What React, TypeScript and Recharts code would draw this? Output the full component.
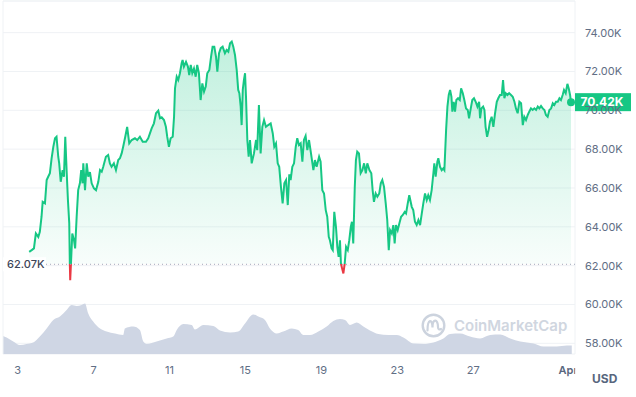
import React from "react";
import {
  ComposedChart,
  Area,
  XAxis,
  YAxis,
  CartesianGrid,
  ReferenceLine,
  ReferenceDot,
} from "recharts";

const GREEN = "#16c784";
const RED = "#ea3943";
const GRID = "#eff2f5";
const TEXT = "#616e85";
const FONT = "Inter, 'Noto Sans', sans-serif";

// days of March (Apr 1 = 32)
const priceDays = [
  3.61, 3.74, 3.86, 3.96, 4.09, 4.17, 4.26, 4.32, 4.44, 4.53, 4.61, 4.7, 4.79, 4.88, 4.97, 5.05,
  5.14, 5.19, 5.27, 5.37, 5.44, 5.51, 5.58, 5.65, 5.72, 5.75, 5.77, 5.81, 5.88, 5.97, 6.03, 6.11,
  6.19, 6.28, 6.35, 6.42, 6.46, 6.55, 6.64, 6.72, 6.81, 6.9, 7.02, 7.13, 7.25, 7.34, 7.43, 7.51,
  7.65, 7.77, 7.86, 7.95, 8.07, 8.18, 8.3, 8.39, 8.48, 8.56, 8.67, 8.77, 8.88, 9.01, 9.18, 9.3,
  9.44, 9.59, 9.76, 9.88, 10.06, 10.18, 10.29, 10.41, 10.5, 10.59, 10.71, 10.81, 10.88, 10.97,
  11.06, 11.17, 11.24, 11.29, 11.38, 11.46, 11.55, 11.64, 11.69, 11.76, 11.87, 11.97, 12.04,
  12.12, 12.2, 12.29, 12.38, 12.46, 12.55, 12.64, 12.73, 12.82, 12.91, 12.99, 13.1, 13.19, 13.27,
  13.36, 13.45, 13.52, 13.61, 13.7, 13.8, 13.92, 14.01, 14.1, 14.19, 14.28, 14.36, 14.45, 14.54,
  14.62, 14.68, 14.75, 14.8, 14.86, 14.92, 14.98, 15.03, 15.1, 15.17, 15.24, 15.33, 15.45, 15.56,
  15.62, 15.71, 15.8, 15.89, 15.98, 16.08, 16.2, 16.33, 16.44, 16.52, 16.61, 16.7, 16.78, 16.87,
  16.96, 17.05, 17.14, 17.23, 17.31, 17.38, 17.47, 17.56, 17.65, 17.73, 17.82, 17.91, 18.0, 18.08,
  18.17, 18.26, 18.35, 18.44, 18.58, 18.66, 18.75, 18.88, 18.96, 19.05, 19.14, 19.23, 19.31,
  19.39, 19.45, 19.54, 19.6, 19.68, 19.77, 19.84, 19.91, 19.98, 20.03, 20.09, 20.16, 20.23, 20.3,
  20.39, 20.47, 20.55, 20.61, 20.68, 20.76, 20.82, 20.89, 20.98, 21.07, 21.16, 21.25, 21.34,
  21.42, 21.53, 21.63, 21.7, 21.77, 21.86, 21.95, 22.05, 22.13, 22.21, 22.3, 22.39, 22.47, 22.55,
  22.62, 22.71, 22.79, 22.86, 22.93, 23.02, 23.11, 23.2, 23.29, 23.39, 23.46, 23.55, 23.63, 23.76,
  23.84, 23.93, 24.02, 24.11, 24.2, 24.29, 24.37, 24.46, 24.55, 24.63, 24.72, 24.81, 24.9, 24.95,
  25.02, 25.11, 25.16, 25.25, 25.34, 25.42, 25.48, 25.57, 25.64, 25.71, 25.78, 25.85, 25.9, 25.97,
  26.04, 26.11, 26.2, 26.29, 26.36, 26.45, 26.53, 26.62, 26.71, 26.78, 26.87, 26.95, 27.04, 27.13,
  27.22, 27.31, 27.36, 27.43, 27.52, 27.59, 27.65, 27.73, 27.81, 27.88, 27.97, 28.06, 28.15,
  28.24, 28.32, 28.41, 28.5, 28.57, 28.64, 28.71, 28.8, 28.89, 28.99, 29.08, 29.17, 29.25, 29.34,
  29.43, 29.52, 29.61, 29.69, 29.78, 29.87, 29.95, 30.04, 30.13, 30.22, 30.31, 30.4, 30.48, 30.57,
  30.66, 30.75, 30.83, 30.92, 31.01, 31.1, 31.19, 31.27, 31.36, 31.45, 31.54, 31.62, 31.71, 31.78,
  31.87, 31.96, 32.03, 32.1, 32.15,
];

// BTC price, thousands of USD
const priceValues = [
  62.71, 62.8, 62.89, 63.66, 63.48, 63.74, 64.52, 65.29, 65.21, 66.41, 66.58, 66.76, 67.53, 68.12,
  68.56, 68.64, 67.61, 67.27, 66.32, 66.92, 66.58, 68.64, 66.92, 65.38, 64.18, 62.11, 61.25, 62.11,
  63.66, 63.31, 62.89, 64.52, 65.89, 66.24, 66.92, 66.24, 67.27, 65.89, 67.27, 66.58, 66.82, 66.24,
  65.98, 65.89, 66.32, 66.92, 66.84, 67.09, 67.61, 67.7, 67.27, 67.09, 67.27, 66.92, 67.44, 67.53,
  67.78, 68.12, 68.64, 69.15, 68.3, 68.47, 68.56, 68.47, 68.64, 68.38, 68.38, 68.56, 69.07, 69.33,
  69.85, 69.98, 69.59, 69.64, 69.5, 69.15, 68.64, 68.12, 68.56, 68.64, 69.67, 71.13, 71.73, 71.56,
  71.91, 72.42, 72.59, 72.25, 72.5, 72.25, 71.82, 72.34, 71.91, 72.16, 71.73, 72.34, 71.91, 70.53,
  71.39, 70.96, 71.22, 71.91, 72.08, 72.76, 73.28, 73.28, 72.76, 71.99, 72.94, 73.2, 73.28, 72.94,
  73.11, 73.02, 73.45, 73.54, 73.28, 72.85, 72.08, 71.05, 70.88, 70.19, 69.24, 71.05, 71.56, 71.91,
  70.7, 68.47, 67.61, 68.47, 67.27, 67.78, 68.47, 67.95, 70.27, 67.78, 69.15, 69.5, 69.15, 69.24,
  69.33, 68.81, 68.12, 68.3, 67.27, 67.09, 66.06, 65.21, 66.24, 66.41, 65.12, 66.7, 66.41, 67.09,
  67.27, 68.12, 68.56, 68.21, 68.3, 67.35, 68.47, 68.68, 67.95, 68.47, 67.87, 66.92, 67.44, 67.09,
  67.61, 67.35, 65.89, 65.72, 64.86, 64.52, 63.48, 63.31, 62.89, 62.8, 64.77, 63.99, 62.97, 62.45,
  63.31, 62.11, 61.86, 61.6, 62.11, 62.97, 62.8, 63.31, 63.99, 64.26, 63.14, 66.06, 67.44, 67.87,
  67.78, 66.76, 66.92, 67.27, 66.76, 67.27, 66.92, 66.76, 65.89, 65.29, 65.72, 65.55, 65.72, 66.24,
  66.41, 66.06, 65.21, 64.35, 62.8, 63.83, 63.66, 64.09, 63.14, 64.09, 63.83, 64.18, 64.52, 64.61,
  64.77, 64.69, 65.21, 65.63, 65.03, 64.86, 64.26, 64.09, 64.35, 64.09, 64.69, 65.21, 65.72, 65.38,
  65.63, 65.38, 65.89, 66.76, 67.27, 66.58, 67.35, 67.53, 67.09, 66.92, 67.01, 66.92, 68.98, 70.19,
  70.79, 71.05, 70.7, 69.93, 70.44, 69.93, 70.53, 70.62, 70.53, 71.13, 70.88, 70.53, 70.1, 70.02,
  69.59, 70.1, 70.53, 70.62, 70.44, 70.19, 70.44, 69.59, 70.1, 70.19, 70.02, 69.15, 68.64, 68.98,
  69.41, 69.67, 69.15, 69.85, 70.44, 70.62, 70.79, 70.79, 71.56, 70.62, 70.88, 70.79, 70.88, 70.79,
  70.7, 70.44, 70.1, 69.85, 70.44, 70.36, 69.24, 69.67, 69.5, 69.76, 69.93, 70.1, 70.02, 70.1,
  70.02, 70.19, 70.1, 70.22, 70.1, 70.02, 69.76, 69.67, 70.02, 70.1, 70.36, 70.27, 70.44, 70.44,
  70.62, 70.53, 70.79, 71.05, 70.88, 71.36, 71.13, 70.79, 70.42,
];

const volumeDays = [
  2.23, 2.42, 2.77, 3.12, 3.47, 3.82, 4.17, 4.53, 4.88, 5.23, 5.58, 5.85, 6.11, 6.37, 6.55, 6.72,
  6.98, 7.34, 7.69, 8.13, 8.56, 8.65, 9.09, 9.44, 9.62, 9.8, 10.32, 10.85, 11.2, 11.38, 11.73,
  12.17, 12.34, 12.78, 13.31, 13.66, 14.19, 14.62, 14.98, 15.41, 15.68, 16.03, 16.29, 16.65,
  16.99, 17.44, 17.78, 18.05, 18.4, 18.84, 19.28, 19.63, 19.98, 20.25, 20.51, 20.86, 21.21, 21.56,
  22.0, 22.53, 22.97, 23.32, 23.85, 24.38, 24.9, 25.43, 25.78, 26.31, 26.83, 27.36, 27.89, 28.42,
  28.95, 29.48, 30.17, 30.7, 31.4, 31.93, 32.19,
];

// 24h volume, billions of USD
const volumeValues = [
  36, 33, 25, 18, 20, 23, 35, 51, 68, 75, 88, 98, 96, 98, 101, 81, 65, 51, 45, 41, 38, 51, 55, 48,
  25, 20, 25, 31, 35, 48, 60, 58, 49, 58, 56, 47, 43, 45, 61, 79, 75, 68, 51, 41, 45, 51, 48, 38,
  38, 45, 55, 66, 70, 68, 58, 63, 55, 47, 40, 38, 38, 33, 21, 20, 23, 31, 40, 41, 35, 31, 38, 39,
  31, 25, 21, 15, 15, 17, 17,
];

const xTicks = [3, 7, 11, 15, 19, 23, 27, 32];
const yTicks = [58, 60, 62, 64, 66, 68, 70, 72, 74];
const OPEN_PRICE = 62.07;

const X_MIN = 2.23;
const X_MAX = 32.36;
const Y_MIN = 57.45;
const Y_MAX = 75.63;

const priceData = priceDays.map((t, i) => ({ t, p: priceValues[i] }));
const volumeData = volumeDays.map((t, i) => ({ t, v: volumeValues[i] }));
const last = priceData[priceData.length - 1];

const pMax = Math.max(...priceValues);
const pMin = Math.min(...priceValues);
const split = (pMax - OPEN_PRICE) / (pMax - pMin);

function XTick(props: any) {
  const { x, y, payload } = props;
  if (payload.value === 32) {
    return (
      <g>
        <defs>
          <clipPath id="month-clip">
            <rect x={x - 20} y={y - 2} width={27} height={20} />
          </clipPath>
        </defs>
        <text
          x={x}
          y={y}
          dy="0.71em"
          textAnchor="middle"
          fontSize={11}
          fontWeight={600}
          fill="#58667e"
          fontFamily={FONT}
          clipPath="url(#month-clip)"
        >
          Apr
        </text>
      </g>
    );
  }
  return (
    <text x={x} y={y} dy="0.71em" textAnchor="middle" fontSize={11} fill={TEXT} fontFamily={FONT}>
      {payload.value}
    </text>
  );
}

function OpenLabel(props: any) {
  const { viewBox } = props;
  return (
    <g>
      <rect x={viewBox.x} y={viewBox.y - 7} width={43} height={14} fill="#fff" />
      <text
        x={viewBox.x + 4}
        y={viewBox.y}
        dy="0.35em"
        fontSize={11}
        fontWeight={500}
        fill="#3d4558"
        fontFamily={FONT}
      >
        {OPEN_PRICE.toFixed(2)}K
      </text>
    </g>
  );
}

function LastLabel(props: any) {
  const { viewBox } = props;
  const left = viewBox.x + viewBox.width;
  return (
    <g>
      <rect x={left} y={viewBox.y - 9} width={56} height={18} fill={GREEN} />
      <text
        x={left + 27}
        y={viewBox.y}
        dy="0.36em"
        textAnchor="middle"
        fontSize={12}
        fontWeight={700}
        fill="#fff"
        fontFamily={FONT}
      >
        {last.p.toFixed(2)}K
      </text>
    </g>
  );
}

export default function App() {
  return (
    <div style={{ position: "absolute", left: 0, top: 0, width: 636, height: 397, background: "#fff" }}>
      <ComposedChart width={636} height={397} margin={{ top: 1, right: 0, bottom: 0, left: 3 }}>
        <defs>
          <linearGradient id="priceStroke" x1="0" y1="0" x2="0" y2="1">
            <stop offset={split} stopColor={GREEN} />
            <stop offset={split} stopColor={RED} />
          </linearGradient>
          <linearGradient id="priceFill" x1="0" y1="0" x2="0" y2="1">
            <stop offset={0} stopColor={GREEN} stopOpacity={0.27} />
            <stop offset={split} stopColor={GREEN} stopOpacity={0.03} />
            <stop offset={split} stopColor={RED} stopOpacity={0.08} />
            <stop offset={1} stopColor={RED} stopOpacity={0.08} />
          </linearGradient>
        </defs>
        <CartesianGrid vertical={false} stroke={GRID} />
        <XAxis
          type="number"
          dataKey="t"
          domain={[X_MIN, X_MAX]}
          ticks={xTicks}
          allowDataOverflow
          axisLine={false}
          tickLine={false}
          height={43}
          tickMargin={6}
          tick={<XTick />}
          interval={0}
        />
        <YAxis
          orientation="right"
          domain={[Y_MIN, Y_MAX]}
          ticks={yTicks}
          allowDataOverflow
          axisLine={false}
          tickLine={false}
          width={61}
          tickMargin={4}
          interval={0}
          tick={{ fontSize: 11, fill: TEXT, fontFamily: FONT }}
          tickFormatter={(v: number) => `${v.toFixed(2)}K`}
        />
        <YAxis yAxisId="vol" hide domain={[0, 706]} />
        <ReferenceLine x={X_MIN} stroke={GRID} />
        <ReferenceLine x={X_MAX} stroke={GRID} />
        <ReferenceLine y={Y_MAX} stroke={GRID} />
        <Area
          yAxisId="vol"
          data={volumeData}
          dataKey="v"
          type="monotone"
          stroke="none"
          fill="#cfd6e4"
          fillOpacity={1}
          isAnimationActive={false}
          dot={false}
          activeDot={false}
        />
        <ReferenceLine
          y={OPEN_PRICE}
          stroke="#a1a7bb"
          strokeDasharray="1 3"
          label={<OpenLabel />}
        />
        <Area
          data={priceData}
          dataKey="p"
          type="linear"
          baseValue={OPEN_PRICE}
          stroke="url(#priceStroke)"
          strokeWidth={2}
          fill="url(#priceFill)"
          fillOpacity={1}
          isAnimationActive={false}
          dot={false}
          activeDot={false}
        />
        <ReferenceLine y={last.p} stroke="none" label={<LastLabel />} />
        <ReferenceDot x={last.t} y={last.p} r={4} fill={GREEN} stroke="none" />
      </ComposedChart>

      <div
        style={{
          position: "absolute",
          left: 421,
          top: 313,
          display: "flex",
          alignItems: "center",
          gap: 8,
          pointerEvents: "none",
        }}
      >
        <svg width={25} height={25} viewBox="-12.5 -12.5 25 25">
          <circle r={10.8} fill="none" stroke="#ccd3de" strokeWidth={2.4} />
          <path
            d="M -6 5 C -6 -7 -1 -7 -1 2 C -1 -7 4.5 -7 4.5 1.5 C 4.5 4 6 4.5 7.5 3.5"
            fill="none"
            stroke="#ccd3de"
            strokeWidth={2.2}
            strokeLinecap="round"
          />
        </svg>
        <span style={{ fontFamily: FONT, fontSize: 15, fontWeight: 600, color: "#d0d6e0" }}>
          CoinMarketCap
        </span>
      </div>
      <div
        style={{
          position: "absolute",
          left: 592,
          top: 371,
          fontFamily: FONT,
          fontSize: 12,
          fontWeight: 700,
          color: "#58667e",
        }}
      >
        USD
      </div>
    </div>
  );
}
